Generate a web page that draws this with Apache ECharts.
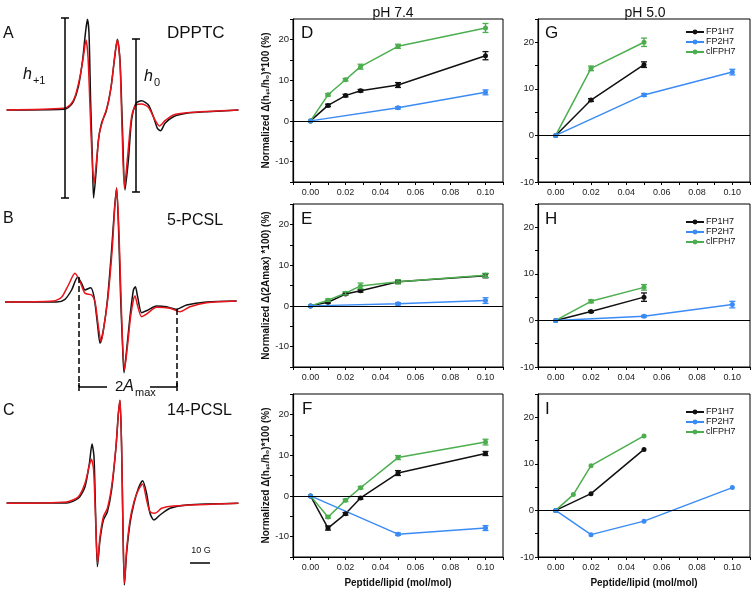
<!DOCTYPE html>
<html style="height: 100%">
<head>
    <meta charset="utf-8">
</head>
<body style="height: 100%; margin: 0">
<div id="container" style="width: 753px; height: 589px"></div>
<script type="text/javascript" src="https://cdn.jsdelivr.net/npm/echarts@6/dist/echarts.min.js"></script>
<script type="text/javascript">
var dom = document.getElementById("container");
var myChart = echarts.init(dom);

// ---- EPR spectra: [field (G), intensity (a.u.)], black = lipid alone, red = with peptide ----
var specABlack = [[3.3,0],[31.7,0.7],[34.2,2.7],[36.7,8.3],[39.2,23.3],[41.3,50],[42.7,76.7],[43.7,90.7],[44.5,76.7],[45.3,10],[46.2,-50],[46.8,-88],[48,-63],[49.2,-30],[50.8,-13],[53,-1.7],[55.3,20],[57.2,50],[58.7,70.7],[60,50],[61.2,-16.7],[62.5,-80],[64.2,-50],[65.8,-10],[68,6.7],[70.8,9.3],[74.2,5],[76.7,-6.7],[78.7,-18.3],[80.3,-20.7],[82.5,-13.3],[86.7,-6.7],[93.3,-3.3],[103.3,-1.7],[119.2,0]];
var specARed = [[3.3,0],[31.7,1.7],[35,5],[37.5,13.3],[40,33.3],[41.7,53.3],[43,70],[44,53.3],[45,3.3],[46,-46.7],[47,-73.3],[48.3,-50],[49.7,-23.3],[51.7,-8.3],[53.7,3.3],[55.8,26.7],[57.5,56.7],[58.7,70],[60,46.7],[61,-16.7],[62.2,-78.3],[63.8,-46.7],[65.8,-6.7],[68,5],[70.8,6],[74.2,2.7],[77.5,-10],[79.7,-16],[82.5,-10.7],[86.7,-5],[93.3,-2.7],[119.2,0]];
var specBBlack = [[2.5,0],[28.3,0],[32.5,2.7],[35.8,12],[38.8,24.7],[40.8,18.7],[42.5,12],[45.3,14.3],[47,5.3],[48.7,-21.3],[50,-41.3],[51.7,-28],[53.7,2],[55.8,52],[57.2,92],[58.3,114],[59.3,72],[60.3,5.3],[61.3,-44.7],[62,-70.7],[63.3,-48],[65,-14.7],[66.7,12],[67.7,15.3],[68.8,5.3],[70.8,-10.7],[73.3,-8.7],[78.3,-4],[83.3,-4.7],[88.3,-7.3],[93.3,-3],[103.3,0],[118.3,1]];
var specBRed = [[2.5,0],[26.7,1],[30.8,4.7],[34.2,17],[37.5,28.7],[40,20.3],[42.5,8.7],[45.8,7],[47.5,0.3],[49.2,-24.7],[50.5,-39.7],[52.2,-21.3],[54.2,8.7],[56.2,55.3],[57.3,92],[58.3,114],[59.5,68.7],[60.5,5.3],[61.3,-41.3],[62.2,-68],[63.7,-44.7],[65.3,-14.7],[66.7,2],[67.5,6],[68.7,-3],[70.8,-14.7],[73.3,-12],[78.3,-5.3],[85,-6.3],[90,-9.7],[95,-4.7],[103.3,-0.7],[118.3,1]];
var specCBlack = [[3.3,0],[33.3,0],[39.2,4.7],[42.5,16.3],[44.7,39.7],[46,59],[47,46.3],[47.8,-10.3],[48.7,-63.7],[50,-37],[51.7,-17],[53.7,-8.7],[55.8,13],[58,56.3],[59.2,89.7],[60,102.3],[60.8,56.3],[61.5,-27],[62.2,-82],[63.3,-50.3],[65,-20.3],[67,-0.3],[69.2,14.7],[71.3,22.3],[73.3,9.7],[75,-10.3],[77,-17],[80,-12],[85,-5.3],[93.3,-2],[119.2,-0.3]];
var specCRed = [[3.3,-0.3],[33.3,1],[39.2,6.3],[42.5,19.7],[44.7,38],[45.7,43.7],[46.8,33],[47.8,-17],[48.8,-60.3],[50,-33.7],[51.7,-13.7],[53.7,-5.3],[55.8,16.3],[58,56.3],[59.2,89.7],[60,103],[60.8,56.3],[61.5,-27],[62.2,-80.3],[63.3,-47],[65,-17],[67,1.3],[69.2,13],[71.3,19],[73.3,3],[75,-8.7],[77.5,-10.3],[80.8,-5.3],[86.7,-3],[119.2,-0.3]];

// spectral annotations: [field, top, bottom]
var hPlus1Bar = [32.5, 92, -88];
var hZeroBar = [68, 71, -82];
// 2Amax: outer extrema [field, intensity], bracket level, text gap
var aMaxLeft = [39.5, 25];
var aMaxRight = [88.3, -7];
var aMaxLevel = -85;
var aMaxGap = [53.5, 75];
var scaleBarG = [95, 105, -60];

// ---- titration data ----
var seriesNames = ['FP1H7', 'FP2H7', 'clFPH7'];
var ratio74 = [0, 0.01, 0.02, 0.0286, 0.05, 0.10];
var ratio50 = [0, 0.01, 0.02, 0.05, 0.10];

// D: h+1/h0, pH 7.4
var dFP1 = [0, 3.8, 6.2, 7.4, 8.8, 16.0],      dFP1Err = [0, 0.3, 0.3, 0.3, 0.6, 1.0];
var dFP2 = [0, null, null, null, 3.2, 7.0],    dFP2Err = [0, 0, 0, 0, 0.3, 0.6];
var dCl  = [0, 6.4, 10.1, 13.3, 18.3, 22.8],   dClErr  = [0, 0.3, 0.3, 0.6, 0.5, 1.1];
// E: 2Amax, pH 7.4
var eFP1 = [0, 0.9, 2.9, 3.7, 5.9, 7.4],       eFP1Err = [0, 0.2, 0.2, 0.3, 0.4, 0.5];
var eFP2 = [0, null, null, null, 0.5, 1.3],    eFP2Err = [0, 0, 0, 0, 0.3, 0.7];
var eCl  = [0, 1.4, 3.1, 4.9, 5.9, 7.5],       eClErr  = [0, 0.3, 0.4, 0.7, 0.5, 0.5];
// F: 14-PCSL, pH 7.4
var fFP1 = [0, -7.9, -4.4, -0.5, 5.6, 10.4],   fFP1Err = [0, 0.5, 0.3, 0.3, 0.6, 0.5];
var fFP2 = [0, null, null, null, -9.4, -7.9],  fFP2Err = [0, 0, 0, 0, 0.3, 0.6];
var fCl  = [0, -5.2, -1.1, 2.0, 9.4, 13.2],    fClErr  = [0, 0.3, 0.3, 0.3, 0.5, 0.7];
// G: h+1/h0, pH 5.0
var gFP1 = [0, null, 7.6, 15.2, null],  gFP1Err = [0, 0, 0.3, 0.6, 0];
var gFP2 = [0, null, null, 8.7, 13.6],  gFP2Err = [0, 0, 0, 0.3, 0.6];
var gCl  = [0, null, 14.4, 20.0, null], gClErr  = [0, 0, 0.5, 0.9, 0];
// H: 2Amax, pH 5.0
var hFP1 = [0, null, 1.9, 5.0, null],   hFP1Err = [0, 0, 0.2, 0.9, 0];
var hFP2 = [0, null, null, 0.9, 3.4],   hFP2Err = [0, 0, 0, 0.2, 0.7];
var hCl  = [0, null, 4.1, 7.1, null],   hClErr  = [0, 0, 0.3, 0.6, 0];
// I: 14-PCSL, pH 5.0 (no error bars)
var iFP1 = [0, null, 3.6, 13.1, null];
var iFP2 = [0, null, -5.2, -2.3, 4.9];
var iCl  = [0, 3.4, 9.6, 16.0, null];

var cBlack = '#111111', cBlue = '#3b8bf5', cGreen = '#4cae4f', cRed = '#e8141b';
var font = 'Liberation Sans, Arial, sans-serif';

function pairs(xs, ys) {
    var d = [];
    xs.forEach(function (x, i) { if (ys[i] != null) d.push([x, ys[i]]); });
    return d;
}

function lineSeries(gi, name, xs, ys, color, zero) {
    var s = {
        type: 'line', name: name, xAxisIndex: gi, yAxisIndex: gi,
        data: pairs(xs, ys), symbol: 'circle', symbolSize: 5,
        itemStyle: { color: color }, lineStyle: { color: color, width: 1.5 },
        z: 3
    };
    if (zero) {
        s.markLine = {
            silent: true, symbol: 'none', label: { show: false },
            lineStyle: { color: '#000', width: 1.2, type: 'solid' },
            data: [{ yAxis: 0 }]
        };
    }
    return s;
}

function errSeries(gi, xs, ys, es, color) {
    var d = [];
    xs.forEach(function (x, i) { if (ys[i] != null && es[i] > 0) d.push([x, ys[i], es[i]]); });
    return {
        type: 'custom', xAxisIndex: gi, yAxisIndex: gi, data: d, silent: true, z: 4,
        encode: { x: 0, y: 1 },
        renderItem: function (params, api) {
            var x = api.value(0), y = api.value(1), e = api.value(2);
            var t = api.coord([x, y + e]), b = api.coord([x, y - e]);
            var w = 3, st = { stroke: color, lineWidth: 1.3 };
            return { type: 'group', children: [
                { type: 'line', shape: { x1: t[0], y1: t[1], x2: b[0], y2: b[1] }, style: st },
                { type: 'line', shape: { x1: t[0] - w, y1: t[1], x2: t[0] + w, y2: t[1] }, style: st },
                { type: 'line', shape: { x1: b[0] - w, y1: b[1], x2: b[0] + w, y2: b[1] }, style: st }
            ]};
        }
    };
}

function seg(x1, y1, x2, y2, type) {
    return [{ coord: [x1, y1], lineStyle: { type: type || 'solid' } }, { coord: [x2, y2] }];
}

function specSeries(gi, data, color, marks) {
    var s = {
        type: 'line', xAxisIndex: gi, yAxisIndex: gi, data: data, showSymbol: false,
        smooth: 0.25, lineStyle: { color: color, width: 1.5 }, silent: true, z: 2
    };
    if (marks) {
        s.markLine = {
            silent: true, symbol: 'none', label: { show: false },
            lineStyle: { color: '#000', width: 1.5 }, data: marks
        };
    }
    return s;
}

function barMarks(b) {
    return [seg(b[0], b[1], b[0], b[2]), seg(b[0] - 2, b[1], b[0] + 2, b[1]), seg(b[0] - 2, b[2], b[0] + 2, b[2])];
}

var marksA = barMarks(hPlus1Bar).concat(barMarks(hZeroBar));
var marksB = [
    seg(aMaxLeft[0], aMaxLeft[1], aMaxLeft[0], aMaxLevel, 'dashed'),
    seg(aMaxRight[0], aMaxRight[1], aMaxRight[0], aMaxLevel, 'dashed'),
    seg(aMaxLeft[0], aMaxLevel, aMaxGap[0], aMaxLevel),
    seg(aMaxGap[1], aMaxLevel, aMaxRight[0], aMaxLevel),
    seg(aMaxLeft[0], aMaxLevel + 4, aMaxLeft[0], aMaxLevel - 4),
    seg(aMaxRight[0], aMaxLevel + 4, aMaxRight[0], aMaxLevel - 4)
];
var marksC = [seg(scaleBarG[0], scaleBarG[2], scaleBarG[1], scaleBarG[2])];

// grids: 0-2 spectra A-C, 3-8 panels D-I
var grids = [
    { left: 0, top: 10, width: 245, height: 190 },
    { left: 0, top: 182, width: 245, height: 210 },
    { left: 0, top: 393, width: 245, height: 196 },
    { left: 293, top: 19, width: 210, height: 163 },
    { left: 293, top: 204, width: 210, height: 163 },
    { left: 293, top: 394, width: 210, height: 163 },
    { left: 538, top: 19, width: 212, height: 163 },
    { left: 538, top: 204, width: 212, height: 163 },
    { left: 538, top: 394, width: 212, height: 163 }
].map(function (g, i) {
    g.outerBoundsMode = 'none';
    if (i > 2) { g.show = true; g.borderColor = '#000'; g.borderWidth = 1; }
    return g;
});

var specY = [[-90, 100], [-90, 120], [-86, 110]];
var yNames = ['Normalized \u0394(h\u208A\u2081/h\u2080)*100 (%)', 'Normalized \u0394(2Amax) *100) (%)', 'Normalized \u0394(h\u208A\u2081/h\u2080)*100 (%)'];

var xAxes = [], yAxes = [];
for (var i = 0; i < 9; i++) {
    if (i < 3) {
        xAxes.push({ type: 'value', gridIndex: i, min: 0, max: 122.5, show: false });
        yAxes.push({ type: 'value', gridIndex: i, min: specY[i][0], max: specY[i][1], show: false });
        continue;
    }
    var bottomPanel = (i === 5 || i === 8);
    xAxes.push({
        type: 'value', gridIndex: i, min: -0.01, max: 0.11, interval: 0.01, position: 'bottom',
        name: bottomPanel ? 'Peptide/lipid (mol/mol)' : '', nameLocation: 'middle', nameGap: 21,
        nameTextStyle: { fontFamily: font, fontSize: 10, fontWeight: 'bold', color: '#111' },
        axisLine: { onZero: false, lineStyle: { color: '#000', width: 1.2 } },
        axisTick: { length: 3, lineStyle: { color: '#000' } },
        splitLine: { show: false },
        axisLabel: {
            fontFamily: font, fontSize: 9, color: '#222', margin: 6,
            formatter: function (v) {
                var k = Math.round(v * 100);
                return (k >= 0 && k <= 10 && k % 2 === 0) ? (k / 100).toFixed(2) : '';
            }
        }
    });
    yAxes.push({
        type: 'value', gridIndex: i, min: i < 6 ? -15 : -10, max: 25, interval: 5, position: 'left',
        name: i < 6 ? yNames[i - 3] : '', nameLocation: 'middle', nameGap: 19,
        nameTextStyle: { fontFamily: font, fontSize: 10, fontWeight: 'bold', color: '#111' },
        axisLine: { onZero: false, lineStyle: { color: '#000', width: 1.2 } },
        axisTick: { length: 3, lineStyle: { color: '#000' } },
        splitLine: { show: false },
        axisLabel: {
            fontFamily: font, fontSize: 9.5, color: '#222', margin: 4,
            formatter: function (v) { return v % 10 === 0 ? String(v) : ''; }
        }
    });
}

var series = [
    specSeries(0, specABlack, cBlack, marksA), specSeries(0, specARed, cRed),
    specSeries(1, specBBlack, cBlack, marksB), specSeries(1, specBRed, cRed),
    specSeries(2, specCBlack, cBlack, marksC), specSeries(2, specCRed, cRed)
];

var panels = [
    [3, ratio74, dFP1, dFP1Err, dFP2, dFP2Err, dCl, dClErr],
    [4, ratio74, eFP1, eFP1Err, eFP2, eFP2Err, eCl, eClErr],
    [5, ratio74, fFP1, fFP1Err, fFP2, fFP2Err, fCl, fClErr],
    [6, ratio50, gFP1, gFP1Err, gFP2, gFP2Err, gCl, gClErr],
    [7, ratio50, hFP1, hFP1Err, hFP2, hFP2Err, hCl, hClErr],
    [8, ratio50, iFP1, null, iFP2, null, iCl, null]
];
panels.forEach(function (p) {
    var gi = p[0], xs = p[1];
    series.push(lineSeries(gi, seriesNames[0], xs, p[2], cBlack, true));
    series.push(lineSeries(gi, seriesNames[2], xs, p[6], cGreen));
    series.push(lineSeries(gi, seriesNames[1], xs, p[4], cBlue));
    if (p[3]) {
        series.push(errSeries(gi, xs, p[2], p[3], cBlack));
        series.push(errSeries(gi, xs, p[6], p[7], cGreen));
        series.push(errSeries(gi, xs, p[4], p[5], cBlue));
    }
});

function label(text, left, top, size, extra) {
    var t = {
        text: text, left: left, top: top, padding: 0,
        textStyle: { fontFamily: font, fontSize: size, fontWeight: 'normal', color: '#111' }
    };
    if (extra) for (var k in extra) t[k] = extra[k];
    return t;
}
var subRich = {
    n: { fontFamily: font, fontSize: 15, fontWeight: 'normal', color: '#111', verticalAlign: 'top', lineHeight: 19 },
    i: { fontFamily: font, fontSize: 16, fontWeight: 'normal', fontStyle: 'italic', color: '#111', verticalAlign: 'top', lineHeight: 19 },
    s: { fontFamily: font, fontSize: 11, fontWeight: 'normal', color: '#111', verticalAlign: 'top', padding: [8, 0, 0, 1], lineHeight: 11 }
};

var titles = [
    label('pH 7.4', 393, 6, 14, { textAlign: 'center' }),
    label('pH 5.0', 645, 6, 14, { textAlign: 'center' }),
    label('D', 301, 25, 17), label('E', 301, 211, 17), label('F', 302, 401, 17),
    label('G', 545, 25, 17), label('H', 545, 211, 17), label('I', 545, 401, 17),
    label('A', 3, 26, 16), label('DPPTC', 167, 25, 17),
    label('B', 3, 211, 16), label('5-PCSL', 167, 213, 16),
    label('C', 3, 403, 16), label('14-PCSL', 167, 403, 16),
    label('10 G', 201, 546, 9, { textAlign: 'center' })
];
titles.push({ text: '{i|h}{s|+1}', left: 23, top: 67, padding: 0, textStyle: { fontWeight: 'normal', rich: subRich } });
titles.push({ text: '{i|h}{s|0}', left: 144, top: 69, padding: 0, textStyle: { fontWeight: 'normal', rich: subRich } });
titles.push({ text: '{n|2}{i|A}{s|max}', left: 115, top: 379, padding: 0, textStyle: { fontWeight: 'normal', rich: subRich } });

var legends = [27, 217, 407].map(function (t) {
    return {
        data: seriesNames, left: 685, top: t, orient: 'vertical', itemWidth: 18, itemHeight: 6,
        itemGap: 0, padding: 0, selectedMode: false,
        textStyle: { fontFamily: font, fontSize: 9, color: '#111', lineHeight: 10, padding: [0, 0, 0, -3] }
    };
});

var option = {
    animation: false,
    backgroundColor: '#fff',
    textStyle: { fontFamily: font },
    title: titles,
    legend: legends,
    grid: grids,
    xAxis: xAxes,
    yAxis: yAxes,
    series: series
};

if (option && typeof option === 'object') {
    myChart.setOption(option);
}
</script>
</body>
</html>
